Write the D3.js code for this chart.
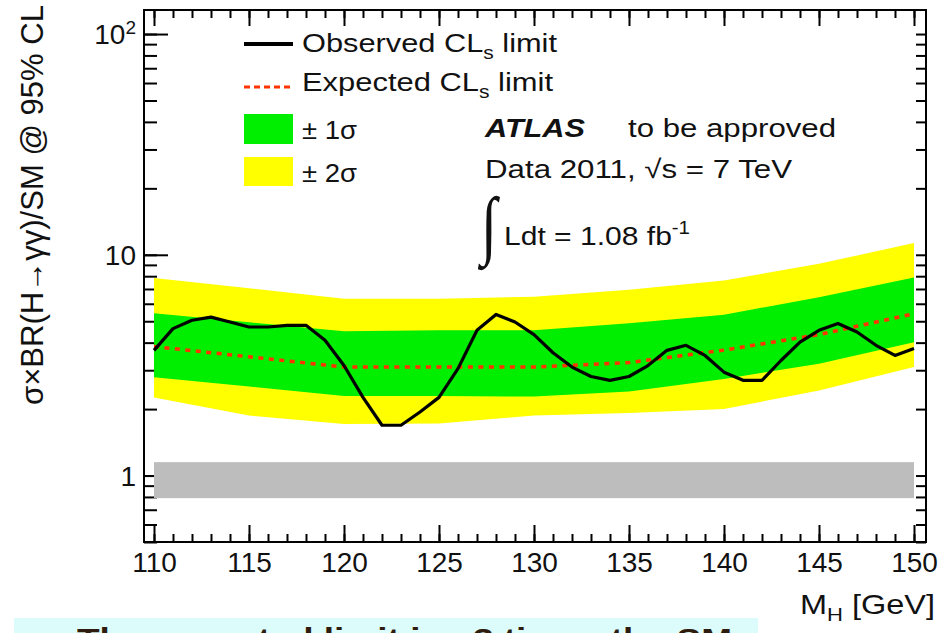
<!DOCTYPE html>
<html><head><meta charset="utf-8">
<script src="https://cdn.jsdelivr.net/npm/d3@7"></script>
<style>
html,body{margin:0;padding:0;background:#fff;}
svg{display:block;font-family:"Liberation Sans",Arial,Helvetica,sans-serif;}
</style></head><body>
<svg id="chart" width="945" height="633"></svg>
<script>
// Observed 95% CL upper limit on sigma x BR(H->gamma gamma) / SM, per mass point (GeV)
const observedMass = [110,111,112,113,114,115,116,117,118,119,120,121,122,123,124,125,126,127,128,129,130,
                      131,132,133,134,135,136,137,138,139,140,141,142,143,144,145,146,147,148,149,150];
const observedLimit = [3.69,4.63,5.05,5.22,4.96,4.71,4.71,4.79,4.79,4.10,3.15,2.26,1.69,1.69,1.94,2.26,3.05,4.55,5.37,4.96,4.35,
                       3.60,3.10,2.81,2.70,2.81,3.15,3.69,3.89,3.50,2.94,2.70,2.70,3.32,4.02,4.55,4.88,4.47,3.89,3.50,3.76];

// Expected limit and its +-1 sigma / +-2 sigma bands
const bandMass      = [110, 115, 120, 125, 130, 135, 140, 145, 150];
const expectedLimit = [3.84, 3.45, 3.10, 3.10, 3.10, 3.25, 3.70, 4.35, 5.41];
const plus2Sigma    = [7.85, 7.05, 6.33, 6.33, 6.45, 6.95, 7.65, 9.10, 11.3];
const plus1Sigma    = [5.43, 4.95, 4.50, 4.55, 4.55, 4.90, 5.35, 6.43, 7.90];
const minus1Sigma   = [2.79, 2.53, 2.29, 2.29, 2.28, 2.40, 2.74, 3.21, 4.02];
const minus2Sigma   = [2.26, 1.87, 1.71, 1.72, 1.87, 1.92, 2.00, 2.43, 3.10];

// Standard Model reference band around 1
const smBand = [0.79, 1.15];

// Axis ranges and ticks
const xDomain = [109.474, 150.632];
const yDomain = [0.5, 128.5];
const xMajorTicks = [110, 115, 120, 125, 130, 135, 140, 145, 150];
const xMinorTicks = d3.range(110, 151);
const yLabelTicks = [1, 10, 100];

const svg = d3.select('#chart');
const frame = {left: 144, right: 926, top: 10, bottom: 542};

const x = d3.scaleLinear().domain(xDomain).range([frame.left, frame.right]);
const y = d3.scaleLog().domain(yDomain).range([frame.bottom, frame.top]);
const yAllTicks = y.ticks();

const ink = '#111';

function styleAxis(g) {
  g.select('.domain').remove();
  g.selectAll('.tick line').attr('stroke', '#000').attr('stroke-width', 2);
  g.selectAll('.tick text').attr('fill', ink).attr('font-size', 28)
    .attr('font-family', '"Liberation Sans",Arial,Helvetica,sans-serif');
}

// ---- axes (ticks pointing into the frame) ----
const axes = svg.append('g');
axes.append('g').attr('transform', `translate(0,${frame.bottom})`)
  .call(d3.axisBottom(x).tickValues(xMinorTicks).tickSize(-8).tickFormat('')).call(styleAxis);
axes.append('g').attr('transform', `translate(0,${frame.bottom})`)
  .call(d3.axisBottom(x).tickValues(xMajorTicks).tickSize(-17).tickPadding(10).tickFormat(d3.format('d')))
  .call(styleAxis);
axes.append('g').attr('transform', `translate(0,${frame.top})`)
  .call(d3.axisTop(x).tickValues(xMinorTicks).tickSize(-8).tickFormat('')).call(styleAxis);
axes.append('g').attr('transform', `translate(0,${frame.top})`)
  .call(d3.axisTop(x).tickValues(xMajorTicks).tickSize(-16).tickFormat('')).call(styleAxis);
axes.append('g').attr('transform', `translate(${frame.left},0)`)
  .call(d3.axisLeft(y).tickValues(yAllTicks).tickSize(-13).tickFormat('')).call(styleAxis);
axes.append('g').attr('transform', `translate(${frame.left},0)`)
  .call(d3.axisLeft(y).tickValues(yLabelTicks).tickSize(-24).tickFormat('')).call(styleAxis);
axes.append('g').attr('transform', `translate(${frame.right},0)`)
  .call(d3.axisRight(y).tickValues(yAllTicks).tickSize(-10).tickFormat('')).call(styleAxis);

// ---- bands ----
const bandPts = bandMass.map((m, i) => ({m, exp: expectedLimit[i], p2: plus2Sigma[i], p1: plus1Sigma[i],
                                         m1: minus1Sigma[i], m2: minus2Sigma[i]}));
svg.append('path').datum(bandPts).attr('fill', '#ffff00')
  .attr('d', d3.area().x(d => x(d.m)).y0(d => y(d.m2)).y1(d => y(d.p2)));
svg.append('path').datum(bandPts).attr('fill', '#00ee00')
  .attr('d', d3.area().x(d => x(d.m)).y0(d => y(d.m1)).y1(d => y(d.p1)));

// SM band
svg.append('rect')
  .attr('x', x(bandMass[0])).attr('width', x(bandMass[bandMass.length - 1]) - x(bandMass[0]))
  .attr('y', y(smBand[1])).attr('height', y(smBand[0]) - y(smBand[1]))
  .attr('fill', '#bdbdbd');

// expected limit (dashed red)
svg.append('path').datum(bandPts).attr('fill', 'none').attr('stroke', '#ff3300')
  .attr('stroke-width', 3.5).attr('stroke-dasharray', '5,5.5')
  .attr('d', d3.line().x(d => x(d.m)).y(d => y(d.exp)));

// observed limit (solid black)
svg.append('path').datum(observedMass.map((m, i) => [m, observedLimit[i]]))
  .attr('fill', 'none').attr('stroke', '#000').attr('stroke-width', 3.2)
  .attr('stroke-linejoin', 'round')
  .attr('d', d3.line().x(d => x(d[0])).y(d => y(d[1])));

// frame
svg.append('rect').attr('x', frame.left).attr('y', frame.top)
  .attr('width', frame.right - frame.left).attr('height', frame.bottom - frame.top)
  .attr('fill', 'none').attr('stroke', '#000').attr('stroke-width', 2);

// ---- y tick labels ----
const yLab = svg.append('g').attr('fill', ink).attr('font-size', 28).attr('text-anchor', 'end');
yLabelTicks.forEach(v => {
  const t = yLab.append('text').attr('x', 136).attr('y', y(v)).attr('dy', '0.36em');
  if (v === 100) {
    t.append('tspan').text('10');
    t.append('tspan').attr('font-size', 19).attr('dy', '-0.55em').text('2');
  } else {
    t.text(d3.format('d')(v));
  }
});

// generic text helper with sub/superscripts
function rich(parent, parts, xx, yy, size, opts = {}) {
  const t = parent.append('text').attr('x', xx).attr('y', yy).attr('font-size', size).attr('fill', ink);
  if (opts.width) t.attr('textLength', opts.width).attr('lengthAdjust', 'spacingAndGlyphs');
  if (opts.weight) t.attr('font-weight', opts.weight);
  if (opts.style) t.attr('font-style', opts.style);
  if (opts.anchor) t.attr('text-anchor', opts.anchor);
  if (opts.transform) t.attr('transform', opts.transform);
  let shift = 0;
  parts.forEach(p => {
    const s = t.append('tspan').text(p.t);
    let target = 0;
    if (p.sub) { s.attr('font-size', size * 0.68); target = size * 0.25; }
    if (p.sup) { s.attr('font-size', size * 0.68); target = -size * 0.42; }
    if (target !== shift) { s.attr('dy', target - shift); shift = target; }
  });
  return t;
}

// axis titles
rich(svg, [{t: 'M'}, {t: 'H', sub: true}, {t: ' [GeV]'}], 800, 614, 28, {width: 135});
rich(svg, [{t: 'σ×BR(H→γγ)/SM @ 95% CL'}], 0, 0, 31,
     {anchor: 'middle', width: 400, transform: 'translate(43,205) rotate(-90)'});

// ---- legend ----
const leg = svg.append('g');
leg.append('line').attr('x1', 244).attr('x2', 293).attr('y1', 44).attr('y2', 44)
  .attr('stroke', '#000').attr('stroke-width', 4);
leg.append('line').attr('x1', 244).attr('x2', 293).attr('y1', 87).attr('y2', 87)
  .attr('stroke', '#ff3300').attr('stroke-width', 3).attr('stroke-dasharray', '6,4');
leg.append('rect').attr('x', 244).attr('y', 114).attr('width', 49).attr('height', 30).attr('fill', '#00ee00');
leg.append('rect').attr('x', 244).attr('y', 157).attr('width', 49).attr('height', 29).attr('fill', '#ffff00');
rich(leg, [{t: 'Observed CL'}, {t: 's', sub: true}, {t: ' limit'}], 302, 52, 26, {width: 255});
rich(leg, [{t: 'Expected CL'}, {t: 's', sub: true}, {t: ' limit'}], 302, 91, 26, {width: 251});
rich(leg, [{t: '± 1σ'}], 302, 139, 26, {width: 55});
rich(leg, [{t: '± 2σ'}], 302, 182, 26, {width: 55});

// ---- experiment labels ----
rich(svg, [{t: 'ATLAS'}], 485, 137, 26, {weight: 'bold', style: 'italic', width: 100});
rich(svg, [{t: 'to be approved'}], 628, 137, 26, {width: 208});
rich(svg, [{t: 'Data 2011, √s = 7 TeV'}], 485, 178, 26, {width: 307});
svg.append('text').attr('x', 481).attr('y', 250).attr('font-size', 76).attr('fill', ink)
  .attr('font-family', '"Liberation Serif","DejaVu Serif",serif')
  .attr('textLength', 16).attr('lengthAdjust', 'spacingAndGlyphs').text('∫');
rich(svg, [{t: 'Ldt = 1.08 fb'}, {t: '-1', sup: true}], 504, 245, 26, {width: 186});

// ---- caption box below the plot ----
svg.append('rect').attr('x', 14).attr('y', 618).attr('width', 744).attr('height', 30).attr('fill', '#dcfcfc');
svg.append('text').attr('x', 77).attr('y', 649).attr('font-size', 30).attr('font-weight', 'bold')
  .attr('fill', '#2e1d0e').attr('textLength', 655).attr('lengthAdjust', 'spacingAndGlyphs')
  .text('The expected limit is ~3 times the SM');
</script>
</body></html>
